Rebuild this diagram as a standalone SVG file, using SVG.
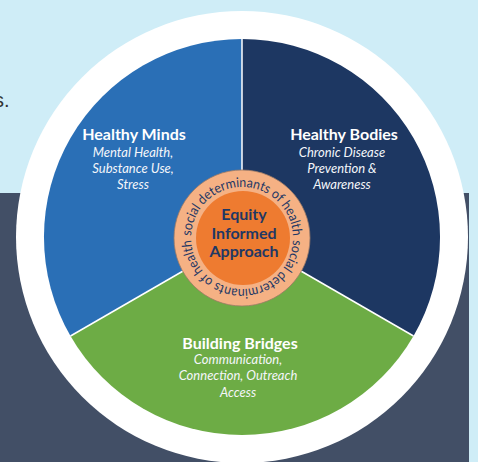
<svg xmlns="http://www.w3.org/2000/svg" width="478" height="462" viewBox="0 0 478 462">
<defs>
<style>
.title{font-family:Lato,"Open Sans",sans-serif;font-weight:700;font-size:16px;fill:#ffffff;text-anchor:middle}
.sub{font-family:Lato,"Open Sans",sans-serif;font-style:italic;font-size:13px;fill:#f4f6fa;text-anchor:middle}
.core{font-family:Lato,"Open Sans",sans-serif;font-weight:700;font-size:16px;fill:#1f3864;text-anchor:middle}
.ring{font-family:Lato,"Open Sans",sans-serif;font-size:13.5px;fill:#1f3864}
.sep{stroke:#ffffff;stroke-width:1.5;fill:none}
</style>
<path id="ringTop" d="M191,238 A51,51 0 0 1 293,238"/>
<path id="ringBot" d="M293,238 A51,51 0 0 1 191,238"/>
</defs>
<rect x="0" y="0" width="478" height="462" fill="#cfedf7"/>
<rect x="0" y="193" width="469" height="269" fill="#424f66"/>
<text x="-6" y="107" font-family="Liberation Sans, sans-serif" font-size="20" fill="#333333">s.</text>
<circle cx="242" cy="237" r="226" fill="#ffffff"/>
<g id="healthy-minds">
<path d="M242,237 L242,39 A198,198 0 0 0 70.5,336 Z" fill="#2a6fb6"/>
<text class="title" x="134" y="140">Healthy Minds</text>
<text class="sub" x="133" y="157">Mental Health,</text>
<text class="sub" x="133" y="173">Substance Use,</text>
<text class="sub" x="133" y="189">Stress</text>
</g>
<g id="healthy-bodies">
<path d="M242,237 L242,39 A198,198 0 0 1 413.5,336 Z" fill="#1d3762"/>
<text class="title" x="344" y="140">Healthy Bodies</text>
<text class="sub" x="342" y="157">Chronic Disease</text>
<text class="sub" x="342" y="173">Prevention &amp;</text>
<text class="sub" x="342" y="189">Awareness</text>
</g>
<g id="building-bridges">
<path d="M242,237 L70.5,336 A198,198 0 0 0 413.5,336 Z" fill="#6dac45"/>
<text class="title" x="240" y="349">Building Bridges</text>
<text class="sub" x="238" y="364">Communication,</text>
<text class="sub" x="238" y="380">Connection, Outreach</text>
<text class="sub" x="238" y="397">Access</text>
</g>
<g id="separators">
<line class="sep" x1="242" y1="237" x2="242" y2="39"/>
<line class="sep" x1="242" y1="237" x2="70.5" y2="336"/>
<line class="sep" x1="242" y1="237" x2="413.5" y2="336"/>
</g>
<g id="equity-center">
<circle cx="242" cy="238" r="68" fill="#f5b184" stroke="#9c7a66" stroke-width="0.8"/>
<text class="ring"><textPath href="#ringTop" startOffset="2" textLength="156" lengthAdjust="spacingAndGlyphs">social determinants of health</textPath></text>
<text class="ring"><textPath href="#ringBot" startOffset="2" textLength="156" lengthAdjust="spacingAndGlyphs">social determinants of health</textPath></text>
<circle cx="243" cy="238" r="47" fill="#ee7b30"/>
<text class="core" x="244" y="220">Equity</text>
<text class="core" x="244" y="238.5">Informed</text>
<text class="core" x="244" y="257">Approach</text>
</g>
</svg>
